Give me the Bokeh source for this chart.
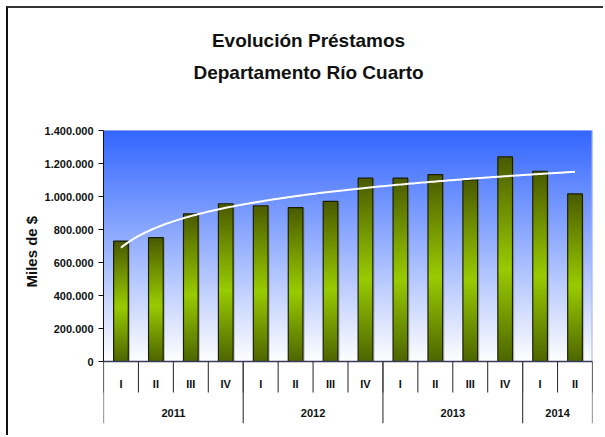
import numpy as np
from bokeh.plotting import figure
from bokeh.models import Range1d, FixedTicker, ColumnDataSource, Title
from bokeh.core.properties import value
from bokeh.embed import file_html
from bokeh.resources import INLINE

# ---------------- data ----------------
years = ["2011", "2011", "2011", "2011",
         "2012", "2012", "2012", "2012",
         "2013", "2013", "2013", "2013",
         "2014", "2014"]
quarters = ["I", "II", "III", "IV",
            "I", "II", "III", "IV",
            "I", "II", "III", "IV",
            "I", "II"]
loans = [730000, 751000, 895000, 956000,
         944000, 933000, 971000, 1111000,
         1111000, 1133000, 1101000, 1240000,
         1153000, 1016000]
y_ticks = [0, 200000, 400000, 600000, 800000, 1000000, 1200000, 1400000]
y_tick_labels = ["0", "200.000", "400.000", "600.000", "800.000",
                 "1.000.000", "1.200.000", "1.400.000"]
title_lines = ["Evolución Préstamos", "Departamento Río Cuarto"]
y_label = "Miles de $"

FONT = "Liberation Sans"

# ---------------- geometry (pixels) ----------------
n = len(loans)
idx = np.arange(n)
y_top = y_ticks[-1]
plot_px = 231          # height of the 0..max value area
above_px = 110         # title area above value area
below_px = 62          # category area below the zero line
frame_h = plot_px + above_px + below_px
unit_per_px = y_top / plot_px
y_max = y_top + above_px * unit_per_px
y_min = -below_px * unit_per_px
frame_w = 489
cat_px = frame_w / n

p = figure(width=595, height=427, output_backend="svg", toolbar_location=None,
           x_range=Range1d(-0.5, n - 0.5), y_range=Range1d(y_min, y_max),
           x_axis_location=None, min_border_left=95, min_border_right=11,
           min_border_top=12, min_border_bottom=12)
p.frame_width = frame_w
p.frame_height = frame_h
p.outline_line_color = None
p.grid.visible = False
p.background_fill_color = "white"
p.border_fill_color = "white"
p.styles = {"margin-left": "6px", "margin-top": "6px",
            "border-left": "2px solid #111111", "border-top": "2px solid #333333"}

def rgba_column(stops, rows):
    t = np.linspace(0, 1, rows)
    pos = [s[0] for s in stops]
    img = np.empty((rows, 1), dtype=np.uint32)
    view = img.view(dtype=np.uint8).reshape((rows, 1, 4))
    for c in range(3):
        view[:, 0, c] = np.interp(t, pos, [s[1][c] for s in stops]).astype(np.uint8)
    view[:, 0, 3] = 255
    return img

# plot-area gradient background (row 0 = bottom)
bg = rgba_column([(0.0, (255, 255, 255)), (1.0, (51, 102, 255))], 400)
p.image_rgba(image=[bg], x=-0.5, y=0, dw=n, dh=y_top)

# plot area border (top / right)
p.line([-0.5, n - 0.5], [y_top, y_top], line_color="#8fa3ff", line_width=1)
p.line([n - 0.5, n - 0.5], [0, y_top], line_color="#9fb2ff", line_width=2)

# bars with vertical gradient
bw = 0.42
bar_img = rgba_column([(0.0, (78, 102, 0)), (0.45, (153, 204, 0)), (1.0, (74, 90, 0))], 300)
src = ColumnDataSource(dict(img=[bar_img] * n, x=list(idx - bw / 2), dh=loans,
                            left=list(idx - bw / 2), right=list(idx + bw / 2),
                            sl=list(idx + bw / 2), sr=list(idx + bw / 2 + 0.05)))
p.quad(left="sl", right="sr", bottom=0, top="dh", source=src,
       fill_color="#7a7a88", fill_alpha=0.45, line_color=None)
p.image_rgba(image="img", x="x", y=0, dw=bw, dh="dh", source=src)
p.quad(left="left", right="right", bottom=0, top="dh", source=src,
       fill_color=None, line_color="#1b1f00", line_width=1.2)

# logarithmic trend line fitted to the bars
lx = np.log(idx + 1.0)
b, a = np.polyfit(lx, np.array(loans, dtype=float), 1)
xs = np.linspace(0, n - 1, 200)
p.line(xs, a + b * np.log(xs + 1.0), line_color="white", line_width=2)

# zero line
p.line([-0.5, n - 0.5], [0, 0], line_color="#3a3a5a", line_width=1.5)

# category separators
q_len = 31 * unit_per_px
seps = np.arange(n + 1) - 0.5
year_bounds = [0] + [i for i in range(1, n) if years[i] != years[i - 1]] + [n]
p.segment(x0=list(seps), y0=0, x1=list(seps), y1=-q_len, line_color="#222222", line_width=1)
p.segment(x0=[v - 0.5 for v in year_bounds], y0=0, x1=[v - 0.5 for v in year_bounds],
          y1=y_min, line_color="#444444", line_width=1.2)

# category labels
p.text(x=list(idx), y=-22 * unit_per_px, text=quarters, text_font=value(FONT),
       text_font_style="bold", text_font_size="11px", text_align="center",
       text_baseline="middle", text_color="#111111")
ycent = [(year_bounds[k] + year_bounds[k + 1] - 1) / 2 for k in range(len(year_bounds) - 1)]
ynames = [years[year_bounds[k]] for k in range(len(year_bounds) - 1)]
p.text(x=ycent, y=-51 * unit_per_px, text=ynames, text_font=value(FONT),
       text_font_style="bold", text_font_size="11px", text_align="center",
       text_baseline="middle", text_color="#111111")

# title (two lines, drawn in the upper part of the frame)
title_x = -0.5 + (308 - 103) / cat_px
p.text(x=[title_x, title_x], y=[y_top + 90 * unit_per_px, y_top + 58 * unit_per_px],
       text=title_lines, text_font=value(FONT), text_font_style="bold",
       text_font_size="19px", text_align="center", text_baseline="middle",
       text_color="#111111")

# y axis
ax = p.yaxis[0]
ax.bounds = (0, y_top)
ax.ticker = FixedTicker(ticks=y_ticks)
ax.major_label_overrides = {t: s for t, s in zip(y_ticks, y_tick_labels)}
ax.minor_tick_line_color = None
ax.major_tick_in = 0
ax.major_tick_out = 5
ax.major_label_standoff = 5
ax.axis_line_color = "#111111"
ax.major_tick_line_color = "#111111"
ax.major_label_text_font = FONT
ax.major_label_text_font_style = "bold"
ax.major_label_text_font_size = "11px"
ax.major_label_text_color = "#111111"

# vertical axis title, centred on the value area (not the whole frame)
p.add_layout(Title(text=y_label, align="left", offset=(423 - 287), standoff=4,
                   text_font=FONT, text_font_style="bold", text_font_size="15px",
                   text_color="#111111"), "left")

open("out.html", "w").write(file_html(p, INLINE))
